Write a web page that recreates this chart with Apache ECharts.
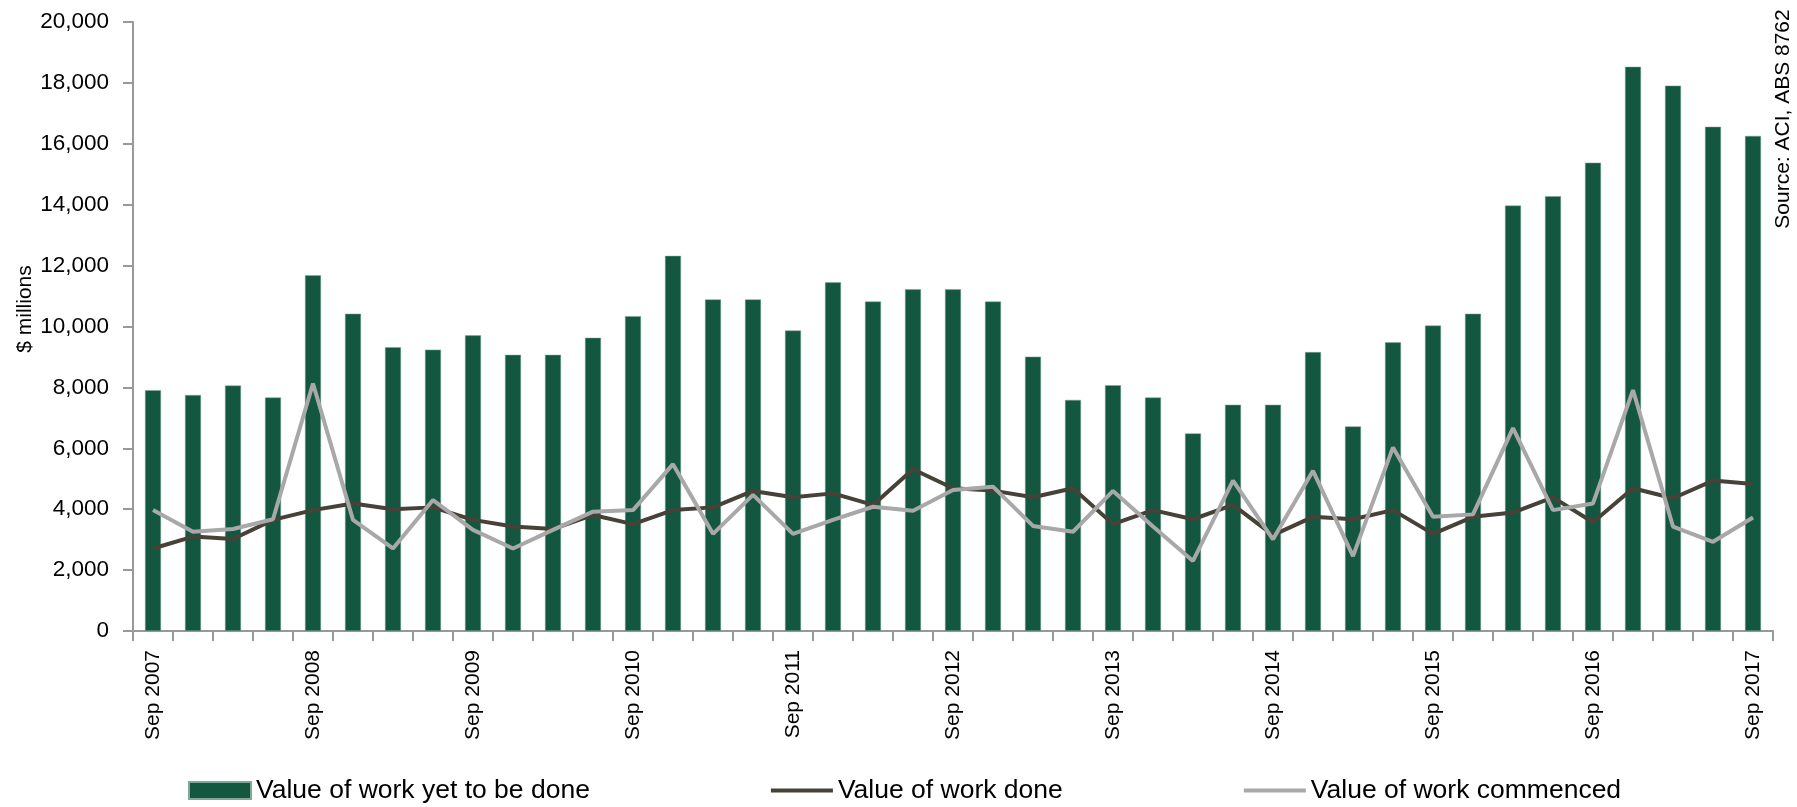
<!DOCTYPE html>
<html>
<head>
<meta charset="utf-8">
<script src="https://cdn.jsdelivr.net/npm/echarts@6/dist/echarts.min.js"></script>
<style>
html,body{margin:0;padding:0;background:#fff;}
#chart{width:1797px;height:807px;}
</style>
</head>
<body>
<div id="chart"></div>
<script>
const categories = [
  'Sep 2007','Dec 2007','Mar 2008','Jun 2008',
  'Sep 2008','Dec 2008','Mar 2009','Jun 2009',
  'Sep 2009','Dec 2009','Mar 2010','Jun 2010',
  'Sep 2010','Dec 2010','Mar 2011','Jun 2011',
  'Sep 2011','Dec 2011','Mar 2012','Jun 2012',
  'Sep 2012','Dec 2012','Mar 2013','Jun 2013',
  'Sep 2013','Dec 2013','Mar 2014','Jun 2014',
  'Sep 2014','Dec 2014','Mar 2015','Jun 2015',
  'Sep 2015','Dec 2015','Mar 2016','Jun 2016',
  'Sep 2016','Dec 2016','Mar 2017','Jun 2017',
  'Sep 2017'
];
const yetToBeDone = [
  7910, 7750, 8060, 7670, 11680, 10420, 9320, 9240, 9710, 9070, 9070, 9630,
  10340, 12320, 10890, 10890, 9870, 11450, 10820, 11220, 11220, 10820, 9010, 7590,
  8070, 7670, 6490, 7430, 7430, 9160, 6720, 9480, 10030, 10420, 13970, 14280,
  15380, 18530, 17910, 16560, 16260
];
const workDone = [
  2710, 3100, 3020, 3650, 3970, 4190, 4000, 4060, 3650, 3430, 3350, 3810,
  3510, 3970, 4060, 4600, 4390, 4520, 4140, 5310, 4690, 4610, 4390, 4690,
  3510, 3970, 3670, 4140, 3150, 3750, 3670, 3970, 3190, 3750, 3890, 4390,
  3570, 4690, 4360, 4940, 4830
];
const workCommenced = [
  3970, 3260, 3350, 3670, 8130, 3650, 2710, 4300, 3320, 2710, 3320, 3920,
  3970, 5480, 3190, 4470, 3190, 3650, 4080, 3950, 4630, 4740, 3450, 3260,
  4600, 3430, 2300, 4940, 3010, 5260, 2460, 6030, 3750, 3830, 6660, 3970,
  4190, 7910, 3430, 2930, 3730
];
const yTicks = [0, 2000, 4000, 6000, 8000, 10000, 12000, 14000, 16000, 18000, 20000];
const seriesNames = ['Value of work yet to be done', 'Value of work done', 'Value of work commenced'];

const FONT = "'Liberation Sans', Arial, sans-serif";
const chart = echarts.init(document.getElementById('chart'), null, {renderer: 'canvas'});
const fmt = v => String(v).replace(/\B(?=(\d{3})+(?!\d))/g, ',');
const LINE_ICON = 'path://M0,0H62V4H0Z';

chart.setOption({
  backgroundColor: '#ffffff',
  animation: false,
  grid: {left: 133, right: 24, top: 22, bottom: 176, containLabel: false},
  legend: {
    left: 183, top: 772,
    itemWidth: 62, itemHeight: 17, itemGap: 181,
    textStyle: {fontFamily: FONT, fontSize: 26.5, color: '#000'},
    data: [
      {name: seriesNames[0], icon: 'rect'},
      {name: seriesNames[1], icon: LINE_ICON},
      {name: seriesNames[2], icon: LINE_ICON}
    ]
  },
  xAxis: {
    type: 'category',
    data: categories,
    boundaryGap: true,
    axisLine: {lineStyle: {color: '#999999', width: 2}},
    axisTick: {show: true, interval: 0, length: 10, lineStyle: {color: '#999999', width: 2}},
    axisLabel: {interval: 3, rotate: 90, margin: 19, fontFamily: FONT, fontSize: 21, color: '#000'}
  },
  yAxis: {
    type: 'value',
    min: 0, max: 20000, interval: 2000,
    axisLine: {show: true, lineStyle: {color: '#999999', width: 2}},
    axisTick: {show: true, length: 10, lineStyle: {color: '#999999', width: 2}},
    splitLine: {show: false},
    axisLabel: {margin: 24, fontFamily: FONT, fontSize: 22.5, color: '#000', formatter: v => yTicks.includes(v) ? fmt(v) : ''}
  },
  graphic: [
    {type: 'text', x: 25, y: 309, rotation: Math.PI / 2,
     style: {text: '$ millions', fontFamily: FONT, fontSize: 21, fill: '#000', textAlign: 'center', textVerticalAlign: 'middle'}},
    {type: 'text', x: 1783, y: 119, rotation: Math.PI / 2,
     style: {text: 'Source: ACI, ABS 8762', fontFamily: FONT, fontSize: 21, fill: '#000', textAlign: 'center', textVerticalAlign: 'middle'}}
  ],
  series: [
    {name: seriesNames[0], type: 'bar', data: yetToBeDone, barWidth: 16,
     itemStyle: {color: '#135740', borderColor: '#7fa897', borderWidth: 0.5}},
    {name: seriesNames[1], type: 'line', data: workDone, symbol: 'none',
     lineStyle: {color: '#474238', width: 4}, itemStyle: {color: '#474238'}},
    {name: seriesNames[2], type: 'line', data: workCommenced, symbol: 'none',
     lineStyle: {color: '#a8a8a8', width: 4}, itemStyle: {color: '#a8a8a8'}}
  ]
});
</script>
</body>
</html>
